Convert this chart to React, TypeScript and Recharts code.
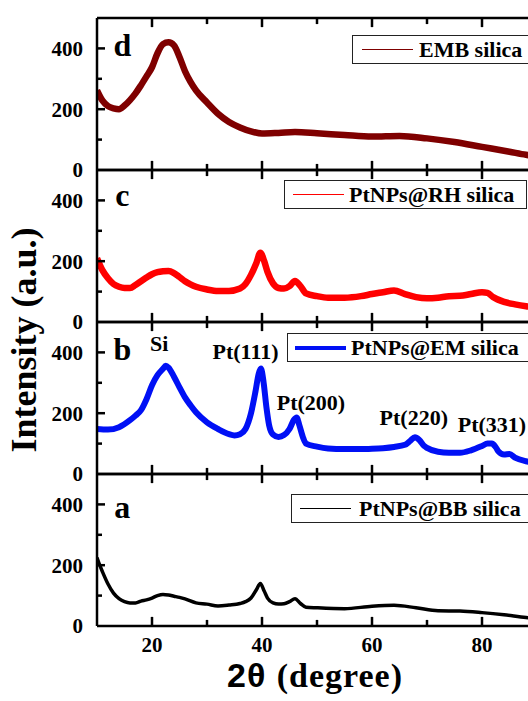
import React from 'react';
import { LineChart, Line, XAxis, YAxis, ReferenceLine, ReferenceDot, Legend } from 'recharts';

const SERIF = '"Liberation Serif", "Times New Roman", serif';
const SANS = '"Liberation Sans", Arial, sans-serif';

// d: EMB silica
const embTheta = [10, 11, 12, 13, 14, 15, 16, 17, 18, 19, 20, 21, 22, 23, 24, 25, 26, 27, 28, 30, 32, 34, 36, 38, 40, 43, 46, 50, 55, 60, 65, 70, 75, 80, 85, 88, 90];
const embCounts = [262, 228, 210, 203, 200, 212, 230, 252, 279, 308, 338, 384, 414, 420, 410, 372, 325, 290, 262, 222, 185, 158, 140, 127, 120, 122, 125, 121, 115, 110, 112, 104, 92, 76, 60, 50, 45];

// c: PtNPs@RH silica
const rhTheta = [10, 11, 12, 13, 14, 15, 16, 17, 18, 19, 20, 21, 22, 23, 24, 25, 26, 27, 28, 30, 32, 34, 36, 37, 38, 39, 39.7, 40.4, 41, 42, 43, 44, 45, 46, 47, 48, 50, 52, 55, 58, 60, 62, 64, 66, 68, 70, 72, 74, 76, 78, 80, 81, 82, 84, 86, 88, 90];
const rhCounts = [210, 170, 144, 125, 116, 112, 112, 122, 134, 146, 157, 164, 167, 168, 161, 148, 134, 124, 116, 107, 102, 102, 110, 125, 155, 195, 228, 200, 165, 127, 112, 110, 118, 135, 118, 94, 85, 80, 80, 85, 92, 98, 104, 92, 82, 78, 80, 85, 86, 92, 98, 96, 82, 66, 58, 52, 48];

// b: PtNPs@EM silica
const emTheta = [10, 12, 14, 16, 17, 18, 19, 20, 21, 22, 22.5, 23, 24, 25, 26, 27, 28, 30, 32, 34, 35, 36, 37, 38, 38.8, 39.4, 39.8, 40.3, 40.8, 41.3, 42, 43, 44, 45, 45.8, 46.3, 46.8, 47.5, 48, 50, 52, 55, 58, 60, 62, 64, 66, 67, 67.8, 68.6, 69.5, 70, 72, 74, 76, 78, 80, 81, 81.8, 82.5, 83, 84, 85, 86, 88, 90];
const emCounts = [148, 146, 154, 177, 192, 210, 246, 292, 325, 346, 356, 350, 320, 285, 252, 226, 203, 170, 148, 131, 127, 131, 148, 200, 270, 330, 347, 300, 220, 160, 130, 122, 128, 148, 178, 186, 160, 118, 100, 90, 84, 82, 82, 83, 85, 89, 96, 110, 121, 112, 92, 86, 73, 70, 70, 78, 92, 100, 100, 88, 74, 64, 66, 54, 42, 36];

// a: PtNPs@BB silica
const bbTheta = [10, 10.5, 11, 12, 13, 14, 15, 16, 17, 18, 19, 20, 21, 22, 23, 24, 25, 26, 28, 30, 32, 34, 36, 37, 38, 39, 39.7, 40.4, 41, 42, 43, 44, 45, 46, 47, 48, 50, 55, 60, 64, 68, 72, 76, 80, 84, 88, 90];
const bbCounts = [225, 200, 178, 138, 108, 90, 80, 76, 76, 82, 86, 92, 100, 104, 102, 98, 94, 89, 76, 72, 66, 69, 74, 80, 92, 120, 140, 115, 92, 76, 72, 73, 80, 90, 74, 62, 60, 57, 65, 68, 60, 50, 49, 44, 37, 28, 25];

// peak labels on panel b
const peakLabels = ['Si', 'Pt(111)', 'Pt(200)', 'Pt(220)', 'Pt(331)'];
const peakTheta = [21.3, 37, 48.9, 67.6, 81.8];
const peakLevel = [430, 403, 236, 187, 164];

const xTicks = [20, 30, 40, 50, 60, 70, 80, 90];
const yTicks = [0, 100, 200, 300, 400];

const PLOT_LEFT = 97;
const PLOT_H = 152;
const CHART_W = 545;
const PAD = 20;
const BOTTOM = 75;
const Y_MAX = 500;
// inward tick length along y, in data units (≈ 9px / 6px)
const TICK_MAJOR = 30;
const TICK_MINOR = 20;

const zip = (xs: number[], ys: number[]) => xs.map((x, i) => ({ x, y: ys[i] }));

const panels = [
  { letter: 'd', letterY: 414, name: 'EMB silica', color: '#7f0000', width: 6.5, legendLine: 1.5, data: zip(embTheta, embCounts), top: 18, legend: { left: 352, top: 17, pad: 9, gap: 6 } },
  { letter: 'c', letterY: 418, name: 'PtNPs@RH silica', color: '#ff0000', width: 6.5, legendLine: 1.5, data: zip(rhTheta, rhCounts), top: 170, legend: { left: 284, top: 10, pad: 8, gap: 5 } },
  { letter: 'b', letterY: 411, name: 'PtNPs@EM silica', color: '#0010f5', width: 6, legendLine: 4, data: zip(emTheta, emCounts), top: 322, legend: { left: 287, top: 11, pad: 7, gap: 5 } },
  { letter: 'a', letterY: 391, name: 'PtNPs@BB silica', color: '#000000', width: 3.5, legendLine: 1.5, data: zip(bbTheta, bbCounts), top: 474, legend: { left: 291, top: 20, pad: 8, gap: 8 } },
];

type P = (typeof panels)[number];

function XTick(props: any) {
  const { x, y, payload, showLabels } = props;
  const v = payload.value;
  if (!showLabels || v % 20 !== 0) return <g />;
  return (
    <text x={x} y={Number(y) + 26} textAnchor="middle" fontFamily={SERIF} fontWeight="bold" fontSize={21} fill="#000">{v}</text>
  );
}

function YTick(props: any) {
  const { x, y, payload } = props;
  const v = payload.value;
  const major = v % 200 === 0;
  return (
    <g>
      {v !== 0 && <line x1={x} x2={x + (major ? 8 : 5)} y1={y} y2={y} stroke="#000" strokeWidth={2.5} />}
      {major && (
        <text x={x - 14} y={y} dy="0.35em" textAnchor="end" fontFamily={SERIF} fontWeight="bold" fontSize={21} fill="#000">{v}</text>
      )}
    </g>
  );
}

function XTitle(props: any) {
  const { viewBox } = props;
  return (
    <text x={viewBox.x + viewBox.width / 2 - 2} y={viewBox.y + 61} textAnchor="middle" fontWeight="bold" fontSize={34} fill="#000" letterSpacing={1}>
      <tspan fontFamily={SANS}>2θ </tspan>
      <tspan fontFamily={SERIF}>(degree)</tspan>
    </text>
  );
}

function LegendBox({ p }: { p: P }) {
  return (
    <div style={{ display: 'flex', alignItems: 'center', height: 27, border: '1.5px solid #222', background: '#fff', paddingLeft: p.legend.pad, paddingRight: 12, whiteSpace: 'nowrap' }}>
      <span style={{ display: 'inline-block', width: 51, borderTop: `${p.legendLine}px solid ${p.color}` }} />
      <span style={{ marginLeft: p.legend.gap, fontFamily: SERIF, fontWeight: 'bold', fontSize: 22, color: '#000' }}>{p.name}</span>
    </div>
  );
}

function Panel({ p, last }: { p: P; last: boolean }) {
  const bottom = last ? BOTTOM : PAD;
  return (
    <div style={{ position: 'absolute', left: 0, top: p.top - PAD }}>
      <LineChart width={CHART_W} height={PLOT_H + PAD + 1 + bottom} data={p.data} margin={{ top: PAD, right: 8, bottom, left: 0 }}>
        <XAxis
          dataKey="x" type="number" domain={[10, 90]} ticks={xTicks} interval={0} height={1}
          tickSize={0} tickMargin={0} tickLine={false} allowDataOverflow
          axisLine={{ stroke: '#000', strokeWidth: 2.5 }}
          tick={(props: any) => <XTick {...props} showLabels={last} />}
          label={last ? { content: (props: any) => <XTitle {...props} /> } : undefined}
        />
        <YAxis
          type="number" domain={[0, Y_MAX]} ticks={yTicks} interval={0} width={PLOT_LEFT}
          tickSize={0} tickMargin={0} tickLine={false} allowDataOverflow
          axisLine={{ stroke: '#000', strokeWidth: 2.5 }}
          tick={(props: any) => <YTick {...props} />}
        />
        <ReferenceLine y={Y_MAX} stroke="#000" strokeWidth={2.5} />
        {/* inward ticks on the bottom and top frame edges */}
        {xTicks.filter((t) => t < 90).map((t) => {
          const len = t % 20 === 0 ? TICK_MAJOR : TICK_MINOR;
          return [
            <ReferenceLine key={`b${t}`} segment={[{ x: t, y: 0 }, { x: t, y: len }]} stroke="#000" strokeWidth={2.5} />,
            <ReferenceLine key={`t${t}`} segment={[{ x: t, y: Y_MAX - len }, { x: t, y: Y_MAX }]} stroke="#000" strokeWidth={2.5} />,
          ];
        })}
        <Line type="monotone" dataKey="y" name={p.name} stroke={p.color} strokeWidth={p.width} dot={false} isAnimationActive={false} />
        <ReferenceDot x={14.6} y={p.letterY} r={0} fill="none" stroke="none"
          label={{ value: p.letter, position: 'center', fontSize: 32, fontWeight: 'bold', fontFamily: SERIF, fill: '#000' }} />
        {p.letter === 'b' && peakLabels.map((t, i) => (
          <ReferenceDot key={t} x={peakTheta[i]} y={peakLevel[i]} r={0} fill="none" stroke="none"
            label={{ value: t, position: 'center', fontSize: 22, fontWeight: 'bold', fontFamily: SERIF, fill: '#000' }} />
        ))}
        <Legend
          layout="horizontal" verticalAlign="middle" align="center"
          wrapperStyle={{ left: p.legend.left, top: PAD + p.legend.top, width: 'auto' }}
          content={() => <LegendBox p={p} />}
        />
      </LineChart>
    </div>
  );
}

export default function App() {
  return (
    <div style={{ position: 'absolute', left: 0, top: 0, width: 528, height: 701, overflow: 'hidden', background: '#fff' }}>
      {panels.map((p, i) => (
        <Panel key={p.letter} p={p} last={i === panels.length - 1} />
      ))}
      <svg width={60} height={701} style={{ position: 'absolute', left: 0, top: 0 }}>
        <text transform="translate(36,340) rotate(-90)" textAnchor="middle" fontFamily={SERIF} fontWeight="bold" fontSize={36} fill="#000">
          Intensity (a.u.)
        </text>
      </svg>
    </div>
  );
}
